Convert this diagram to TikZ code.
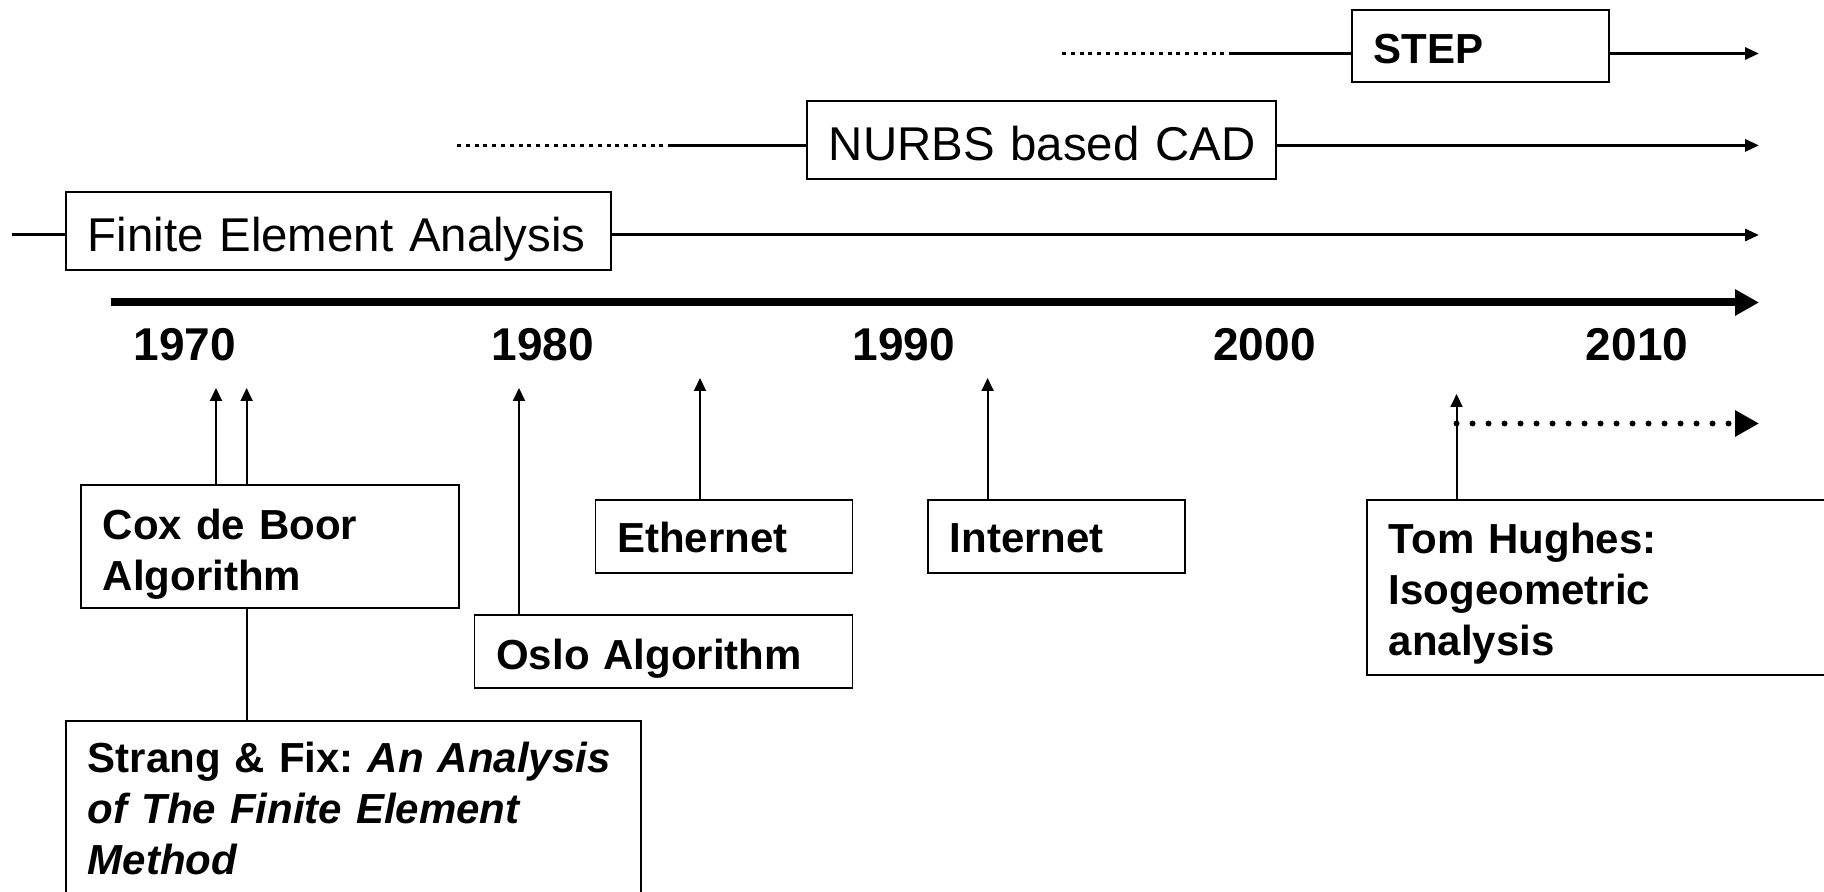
\documentclass[tikz,border=0pt]{standalone}
\usepackage{fontspec}
\setmainfont{Liberation Sans}
\usetikzlibrary{arrows.meta}
\begin{document}
\frenchspacing
\begin{tikzpicture}[x=0.5pt,y=-0.5pt,
  box/.style={draw, line width=0.8pt, anchor=north west, align=left, inner xsep=11pt, inner ysep=0pt},
  lbl/.style={font=\fontsize{21}{25.5}\selectfont\bfseries\frenchspacing},
  big/.style={font=\fontsize{23.7}{28}\selectfont},
  year/.style={font=\fontsize{23}{27}\selectfont\bfseries, anchor=base, inner sep=0pt},
  tl/.style={line width=1.5pt},
  tlarrow/.style={line width=1.5pt, -{Triangle[length=7pt,width=6pt]}},
  tldot/.style={line width=1.5pt, dash pattern=on 2pt off 2.4pt},
  up/.style={line width=1pt, -{Triangle[length=6.5pt,width=6pt]}},
  link/.style={line width=1pt},
  axisline/.style={line width=4pt, -{Triangle[length=12pt,width=12.5pt]}},
  future/.style={line width=3pt, line cap=round, dash pattern=on 0pt off 8pt, -{Triangle[length=12pt,width=12.5pt]}},
]
\useasboundingbox (0,0) rectangle (1824,892);

% top timelines
\node[box, lbl, text width=106.5pt, minimum height=36pt, text height=17.3pt, text depth=0pt] (step) at (1351,9) {\mbox{STEP}};
\node[box, big, text width=212.5pt, minimum height=39pt, text height=20.4pt, text depth=0pt] (nurbs) at (806,100) {\mbox{NURBS based CAD}};
\node[box, big, text width=250.5pt, minimum height=39pt, text height=21pt, text depth=0pt] (fea) at (65,191) {\mbox{Finite Element Analysis}};

\coordinate (stepD) at (1062,53.5);
\coordinate (stepS) at (1230,53.5);
\coordinate (stepE) at (1759,53.5);
\draw[tldot] (stepD) -- (stepS);
\draw[tl] (stepS) -- (stepS -| step.west);
\draw[tlarrow] (stepS -| step.east) -- (stepE);

\coordinate (nurbsD) at (457,145.4);
\coordinate (nurbsS) at (671,145.4);
\coordinate (nurbsE) at (1759,145.4);
\draw[tldot] (nurbsD) -- (nurbsS);
\draw[tl] (nurbsS) -- (nurbsS -| nurbs.west);
\draw[tlarrow] (nurbsS -| nurbs.east) -- (nurbsE);

\coordinate (feaS) at (11.6,235);
\coordinate (feaE) at (1759,235);
\draw[tl] (feaS) -- (feaS -| fea.west);
\draw[tlarrow] (feaS -| fea.east) -- (feaE);

% main axis
\coordinate (axS) at (110.5,302.5);
\coordinate (axE) at (1759,302.5);
\draw[axisline] (axS) -- (axE);

\node[year] (y1970) at (185,361) {1970};
\node[year] (y1980) at (543,361) {1980};
\node[year] (y1990) at (904,361) {1990};
\node[year] (y2000) at (1264.5,361) {2000};
\node[year] (y2010) at (1637,361) {2010};

% event boxes
\node[box, lbl, text width=167pt, minimum height=61.5pt, text height=15pt, text depth=21.9pt] (cox) at (80,484) {Cox de Boor\\Algorithm};
\node[box, lbl, text width=265.5pt, minimum height=88pt] (strang) at (65,720) {Strang \& Fix: \textit{An Analysis}\\\textit{of The Finite Element}\\\textit{Method}};
\node[box, lbl, text width=167pt, minimum height=36.5pt, text height=18.3pt, text depth=0pt] (oslo) at (473.5,614) {\mbox{Oslo Algorithm}};
\node[box, lbl, text width=106.5pt, minimum height=36.5pt, text height=16.4pt, text depth=0pt] (ether) at (594.5,499) {\mbox{Ethernet}};
\node[box, lbl, text width=106.5pt, minimum height=36.5pt, text height=16.4pt, text depth=0pt] (inter) at (927,499) {\mbox{Internet}};
\node[box, lbl, text width=238pt, minimum height=87.5pt, text height=15pt, text depth=48.5pt] (tom) at (1366,499) {Tom Hughes:\\Isogeometric\\analysis};

% connectors
\coordinate (coxA) at (216,388);
\coordinate (coxB) at (246.6,388);
\draw[up] (coxA |- cox.north) -- (coxA);
\draw[up] (coxB |- cox.north) -- (coxB);
\draw[link] (coxB |- cox.south) -- (coxB |- strang.north);

\coordinate (osloT) at (519,388);
\draw[up] (osloT |- oslo.north) -- (osloT);
\coordinate (etherT) at (700,378);
\draw[up] (etherT |- ether.north) -- (etherT);
\coordinate (interT) at (987.6,378);
\draw[up] (interT |- inter.north) -- (interT);
\coordinate (tomT) at (1456.5,394);
\draw[up] (tomT |- tom.north) -- (tomT);
\coordinate (tomF) at (1456.5,423.5);
\coordinate (futEnd) at (1759,423.5);
\draw[future] (tomF) -- (futEnd);
\end{tikzpicture}
\end{document}
